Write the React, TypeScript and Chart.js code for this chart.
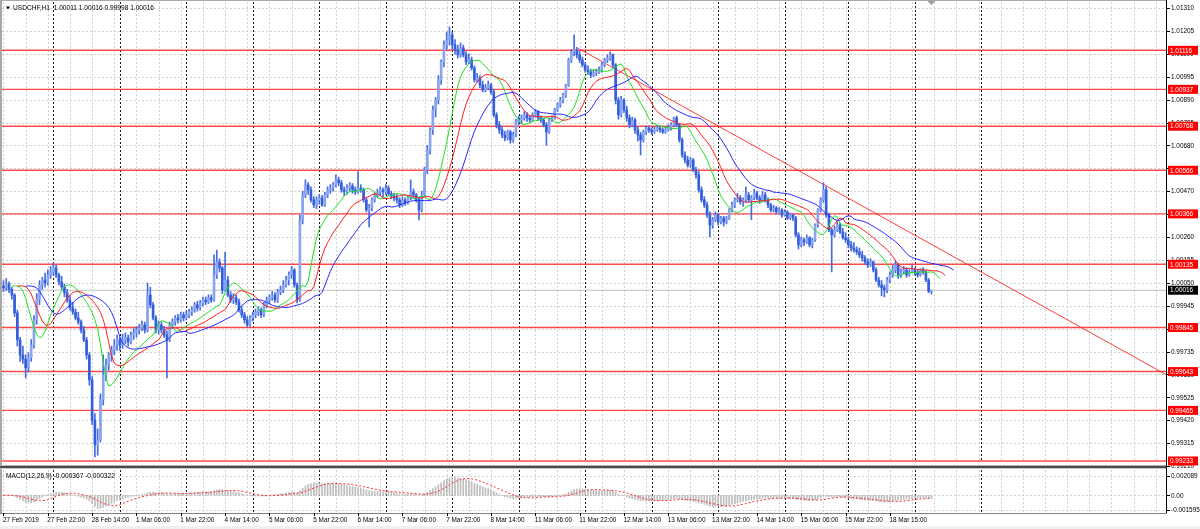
import React, { useEffect, useRef } from "react";
import { Chart, registerables } from "chart.js";
Chart.register(...registerables);

const symbolTitle = "USDCHF,H1  1.00011 1.00016 0.99998 1.00016";
const macdTitle = "MACD(12,26,9) -0.000367 -0.000322";

const opens = [
  1.00035, 1.00027, 1.00045, 1.0002, 0.99994, 0.99912, 0.99788, 0.99719, 0.997, 0.9966, 0.99706, 0.99765,
  0.9988, 0.99975, 1.0004, 1.00063, 1.0005, 1.00086, 1.001, 1.00118, 1.00086, 1.00054, 1.00031, 1.00004,
  0.99971, 0.99935, 0.99916, 0.99889, 0.99871, 0.99834, 0.99788, 0.99719, 0.99605, 0.99421, 0.99307, 0.9933,
  0.99513, 0.99628, 0.99673, 0.99719, 0.99742, 0.99765, 0.99788, 0.99765, 0.99788, 0.99797, 0.99779, 0.99811,
  0.9982, 0.99834, 0.99843, 0.99857, 0.99834, 0.99994, 0.99949, 0.99889, 0.99834, 0.99857, 0.99834, 0.99811,
  0.99788, 0.99857, 0.99871, 0.99889, 0.9988, 0.99903, 0.99889, 0.99903, 0.99916, 0.99926, 0.99949, 0.99935,
  0.99958, 0.99971, 0.99962, 0.99981, 0.99971, 1.00086, 1.00146, 1.00118, 1.00017, 1.00063, 0.99994, 0.99971,
  0.99981, 0.99962, 0.99926, 0.99903, 0.9988, 0.99857, 0.99889, 0.99903, 0.99916, 0.99926, 0.99903, 0.99949,
  0.99971, 0.99981, 0.99994, 0.99971, 1.00008, 1.00017, 1.0004, 1.00063, 1.00086, 1.00109, 1.0004, 0.99971,
  1.00338, 1.00453, 1.00499, 1.00476, 1.0043, 1.00407, 1.0043, 1.00439, 1.00407, 1.00453, 1.00476, 1.00485,
  1.00499, 1.00522, 1.00508, 1.00476, 1.00467, 1.00485, 1.00494, 1.00476, 1.00467, 1.00485, 1.00476, 1.0043,
  1.00384, 1.00393, 1.0043, 1.00453, 1.00467, 1.00476, 1.00467, 1.00485, 1.00458, 1.00448, 1.00439, 1.0043,
  1.00407, 1.0043, 1.00416, 1.00439, 1.00467, 1.00453, 1.0043, 1.00384, 1.00453, 1.00568, 1.00659, 1.00751,
  1.00843, 1.00888, 1.0098, 1.01063, 1.01141, 1.01164, 1.01187, 1.01141, 1.01118, 1.01095, 1.01127, 1.01095,
  1.01063, 1.01072, 1.01035, 1.0098, 1.00989, 1.00957, 1.00934, 1.00944, 1.00957, 1.00925, 1.0082, 1.00774,
  1.00751, 1.00728, 1.00714, 1.00742, 1.00705, 1.00728, 1.00788, 1.00797, 1.00806, 1.0082, 1.00806, 1.00797,
  1.0082, 1.00833, 1.00806, 1.00797, 1.00774, 1.00742, 1.00797, 1.00806, 1.00843, 1.00866, 1.00888, 1.00911,
  1.00957, 1.01072, 1.01109, 1.01118, 1.01095, 1.01072, 1.01049, 1.01026, 1.01017, 1.01003, 1.01012, 1.01017,
  1.01026, 1.01049, 1.01072, 1.01081, 1.01095, 1.01049, 1.00888, 1.0082, 1.00888, 1.00843, 1.00806, 1.00774,
  1.00797, 1.00751, 1.00728, 1.00705, 1.00742, 1.0076, 1.00751, 1.00742, 1.00751, 1.0076, 1.00751, 1.00742,
  1.00751, 1.0076, 1.00774, 1.00806, 1.00774, 1.00705, 1.00636, 1.00613, 1.0059, 1.00613, 1.00568, 1.00545,
  1.00476, 1.0043, 1.00407, 1.00361, 1.00315, 1.00338, 1.00361, 1.00329, 1.00347, 1.00329, 1.00347, 1.00384,
  1.00407, 1.0043, 1.00439, 1.00421, 1.0043, 1.00453, 1.0043, 1.00439, 1.00462, 1.00439, 1.0043, 1.00453,
  1.0043, 1.00407, 1.00384, 1.00393, 1.00375, 1.00384, 1.00361, 1.00375, 1.00347, 1.00361, 1.00347, 1.0027,
  1.00224, 1.00247, 1.00237, 1.00256, 1.00224, 1.00247, 1.00315, 1.00384, 1.0043, 1.00476, 1.00361, 1.00292,
  1.0027, 1.00292, 1.00315, 1.00283, 1.00256, 1.00247, 1.00224, 1.0021, 1.00201, 1.00192, 1.00178, 1.00164,
  1.00146, 1.00132, 1.00146, 1.00109, 1.00063, 1.0004, 1.00027, 1.00017, 1.00063, 1.00086, 1.00109, 1.00132,
  1.00086, 1.001, 1.00109, 1.00086, 1.001, 1.00109, 1.001, 1.00086, 1.00109, 1.001, 1.00063, 1.00011,
];

const highs = [
  1.0006, 1.0007, 1.00055, 1.0003, 1.0, 0.99925, 0.998, 0.9976, 0.9972, 0.9973, 0.9979, 0.999,
  1.0, 1.0006, 1.00075, 1.00095, 1.0011, 1.00125, 1.00141, 1.0013, 1.00095, 1.0008, 1.00045, 1.0002,
  0.9999, 0.9996, 0.9993, 0.99915, 0.9988, 0.9985, 0.998, 0.9973, 0.9962, 0.9945, 0.9938, 0.9954,
  0.9972, 0.997, 0.9973, 0.9976, 0.9979, 0.9981, 0.998, 0.99815, 0.9982, 0.9981, 0.99825, 0.9984,
  0.9985, 0.9986, 0.99875, 0.9987, 1.00049, 1.0003, 0.9996, 0.999, 0.99875, 0.9987, 0.9985, 0.9983,
  0.9987, 0.99885, 0.999, 0.99905, 0.99915, 0.99915, 0.9992, 0.9993, 0.9994, 0.9996, 0.99965, 0.9997,
  0.99985, 0.99985, 0.99995, 0.99995, 1.00178, 1.002, 1.0016, 1.00125, 1.0019, 1.0008, 1.0001, 1.0,
  0.99995, 0.99975, 0.9994, 0.99915, 0.99895, 0.999, 0.99915, 0.9993, 0.9994, 0.99935, 0.9996, 0.99985,
  0.99995, 1.0001, 1.00005, 1.0002, 1.00035, 1.0006, 1.0008, 1.001, 1.00125, 1.00115, 1.0005, 1.0036,
  1.0047, 1.00522, 1.0051, 1.0049, 1.00445, 1.00445, 1.00455, 1.0045, 1.00465, 1.0049, 1.005, 1.0051,
  1.00545, 1.00535, 1.0052, 1.0049, 1.005, 1.0051, 1.00505, 1.0049, 1.0056, 1.005, 1.00485, 1.0044,
  1.0041, 1.0044, 1.00465, 1.0048, 1.0049, 1.00485, 1.005, 1.00495, 1.0047, 1.0046, 1.00455, 1.0044,
  1.00445, 1.0044, 1.0045, 1.00522, 1.0048, 1.0046, 1.0044, 1.0047, 1.0058, 1.0068, 1.0076, 1.0086,
  1.009, 1.01, 1.01072, 1.0116, 1.012, 1.01223, 1.012, 1.01165, 1.0114, 1.0115, 1.0114, 1.0111,
  1.011, 1.01085, 1.01045, 1.0101, 1.01, 1.00975, 1.0096, 1.00975, 1.00965, 1.00935, 1.0083, 1.0079,
  1.00765, 1.00745, 1.0075, 1.0075, 1.0074, 1.008, 1.00815, 1.0082, 1.00835, 1.0083, 1.00815, 1.0083,
  1.00845, 1.0084, 1.00815, 1.00805, 1.00785, 1.00805, 1.00815, 1.0085, 1.00875, 1.009, 1.0092, 1.0096,
  1.0108, 1.0112, 1.01187, 1.0113, 1.0111, 1.01085, 1.0106, 1.01045, 1.0103, 1.01025, 1.0103, 1.0104,
  1.0106, 1.0108, 1.01095, 1.01109, 1.011, 1.01055, 1.009, 1.00905, 1.00895, 1.0086, 1.0082, 1.0081,
  1.00805, 1.00765, 1.0074, 1.0075, 1.0077, 1.0077, 1.0076, 1.00765, 1.0077, 1.0077, 1.0076, 1.00765,
  1.00775, 1.00785, 1.0081, 1.00815, 1.0078, 1.00715, 1.0065, 1.0063, 1.00625, 1.0062, 1.0058, 1.0056,
  1.0049, 1.00445, 1.0042, 1.00375, 1.0035, 1.00375, 1.0037, 1.00355, 1.00355, 1.00355, 1.0039, 1.0042,
  1.0044, 1.0046, 1.0045, 1.0044, 1.0049, 1.00465, 1.0045, 1.0048, 1.0047, 1.0045, 1.0047, 1.00465,
  1.0044, 1.00415, 1.00405, 1.004, 1.00395, 1.0039, 1.00385, 1.0038, 1.0037, 1.00365, 1.00355, 1.0028,
  1.0026, 1.00255, 1.0027, 1.00262, 1.00255, 1.0032, 1.0039, 1.0044, 1.00508, 1.0049, 1.0037, 1.003,
  1.0031, 1.0033, 1.00325, 1.003, 1.0028, 1.0026, 1.0024, 1.00235, 1.00215, 1.0021, 1.00195, 1.00175,
  1.0016, 1.0016, 1.0015, 1.0012, 1.00075, 1.0006, 1.0004, 1.00075, 1.001, 1.0013, 1.0015, 1.0014,
  1.00115, 1.00125, 1.0012, 1.0011, 1.0013, 1.00118, 1.0011, 1.00115, 1.0012, 1.00105, 1.0007, 1.00016,
];

const lows = [
  1.0001, 1.00015, 1.00005, 0.99975, 0.99895, 0.9976, 0.9969, 0.9968, 0.99614, 0.9964, 0.9969, 0.9975,
  0.9986, 0.9995, 1.0002, 1.0003, 1.0004, 1.0007, 1.00085, 1.00075, 1.0004, 1.0002, 0.99985, 0.9996,
  0.99925, 0.99905, 0.9988, 0.9986, 0.9982, 0.9978, 0.997, 0.9958, 0.994, 0.99252, 0.9926, 0.9932,
  0.9949, 0.996, 0.9965, 0.9969, 0.9972, 0.9974, 0.9974, 0.9975, 0.9977, 0.9976, 0.9977, 0.9979,
  0.998, 0.99815, 0.9983, 0.9982, 0.99825, 0.99935, 0.9988, 0.9982, 0.99815, 0.9982, 0.998, 0.99614,
  0.9978, 0.9984, 0.99855, 0.99865, 0.9987, 0.99875, 0.9988, 0.9989, 0.999, 0.99915, 0.9992, 0.99925,
  0.99945, 0.9995, 0.99955, 0.9996, 0.99965, 1.0007, 1.001, 1.0, 1.0001, 0.99985, 0.9996, 0.99955,
  0.9995, 0.99915, 0.9989, 0.99865, 0.99848, 0.9985, 0.99875, 0.9989, 0.999, 0.9989, 0.99895, 0.99935,
  0.99955, 0.9997, 0.9996, 0.9996, 0.99995, 1.00005, 1.0003, 1.0004, 1.0007, 1.0003, 0.99958, 0.99965,
  1.0032, 1.0044, 1.00455, 1.0042, 1.00395, 1.0039, 1.0041, 1.004, 1.004, 1.0044, 1.0046, 1.0047,
  1.0049, 1.00495, 1.00465, 1.0045, 1.00455, 1.0047, 1.0046, 1.00455, 1.0046, 1.00465, 1.0042, 1.00375,
  1.00306, 1.0038, 1.0042, 1.0044, 1.0045, 1.00445, 1.00455, 1.0045, 1.00435, 1.00425, 1.00415, 1.00395,
  1.004, 1.00405, 1.0041, 1.0043, 1.0044, 1.0042, 1.00338, 1.00375, 1.00445, 1.0055, 1.0064, 1.0073,
  1.0081, 1.0087, 1.0096, 1.0104, 1.0112, 1.0114, 1.0112, 1.011, 1.0108, 1.01085, 1.01085, 1.0105,
  1.01055, 1.01025, 1.0097, 1.0097, 1.00945, 1.00925, 1.00925, 1.00935, 1.00915, 1.0081, 1.0076, 1.00735,
  1.00715, 1.007, 1.00705, 1.0069, 1.00695, 1.0072, 1.00775, 1.0078, 1.00795, 1.0079, 1.00785, 1.0079,
  1.0081, 1.00795, 1.00785, 1.00765, 1.0068, 1.00735, 1.0079, 1.008, 1.00835, 1.00855, 1.00875, 1.009,
  1.0095, 1.0106, 1.0109, 1.0108, 1.0106, 1.0104, 1.01015, 1.01005, 1.0099, 1.00995, 1.01, 1.0101,
  1.01015, 1.0104, 1.0106, 1.0107, 1.01035, 1.0087, 1.008, 1.0081, 1.0083, 1.0079, 1.0076, 1.00765,
  1.00735, 1.007, 1.00636, 1.00695, 1.0073, 1.0074, 1.0073, 1.00735, 1.00745, 1.0074, 1.00735, 1.00735,
  1.00745, 1.0075, 1.00765, 1.00765, 1.00695, 1.00625, 1.006, 1.0058, 1.0058, 1.0056, 1.0053, 1.00465,
  1.0042, 1.00395, 1.0035, 1.0026, 1.003, 1.0033, 1.00315, 1.0032, 1.0031, 1.0032, 1.0034, 1.00375,
  1.00395, 1.0042, 1.0041, 1.004, 1.0042, 1.0042, 1.0034, 1.0043, 1.0043, 1.00415, 1.0042, 1.0042,
  1.00395, 1.00375, 1.00375, 1.00365, 1.0037, 1.0035, 1.00355, 1.0034, 1.0034, 1.00335, 1.0026, 1.00205,
  1.00215, 1.0022, 1.0023, 1.00215, 1.0021, 1.0024, 1.00305, 1.00375, 1.0042, 1.0035, 1.00285, 1.001,
  1.0026, 1.00285, 1.00275, 1.0025, 1.00235, 1.0021, 1.00195, 1.0019, 1.0018, 1.00165, 1.0015, 1.00135,
  1.0012, 1.00125, 1.001, 1.00055, 1.0003, 0.9999, 0.99985, 1.00005, 1.0005, 1.00075, 1.00095, 1.0007,
  1.00075, 1.0009, 1.00075, 1.0008, 1.00095, 1.00085, 1.00075, 1.0008, 1.0009, 1.00055, 1.00005, 0.99998,
];

const closes = [
  1.00027, 1.00045, 1.0002, 0.99994, 0.99912, 0.99788, 0.99719, 0.997, 0.9966, 0.99706, 0.99765, 0.9988,
  0.99975, 1.0004, 1.00063, 1.0005, 1.00086, 1.001, 1.00118, 1.00086, 1.00054, 1.00031, 1.00004, 0.99971,
  0.99935, 0.99916, 0.99889, 0.99871, 0.99834, 0.99788, 0.99719, 0.99605, 0.99421, 0.99307, 0.9933, 0.99513,
  0.99628, 0.99673, 0.99719, 0.99742, 0.99765, 0.99788, 0.99765, 0.99788, 0.99797, 0.99779, 0.99811, 0.9982,
  0.99834, 0.99843, 0.99857, 0.99834, 0.99994, 0.99949, 0.99889, 0.99834, 0.99857, 0.99834, 0.99811, 0.99788,
  0.99857, 0.99871, 0.99889, 0.9988, 0.99903, 0.99889, 0.99903, 0.99916, 0.99926, 0.99949, 0.99935, 0.99958,
  0.99971, 0.99962, 0.99981, 0.99971, 1.00086, 1.00146, 1.00118, 1.00017, 1.00063, 0.99994, 0.99971, 0.99981,
  0.99962, 0.99926, 0.99903, 0.9988, 0.99857, 0.99889, 0.99903, 0.99916, 0.99926, 0.99903, 0.99949, 0.99971,
  0.99981, 0.99994, 0.99971, 1.00008, 1.00017, 1.0004, 1.00063, 1.00086, 1.00109, 1.0004, 0.99971, 1.00338,
  1.00453, 1.00499, 1.00476, 1.0043, 1.00407, 1.0043, 1.00439, 1.00407, 1.00453, 1.00476, 1.00485, 1.00499,
  1.00522, 1.00508, 1.00476, 1.00467, 1.00485, 1.00494, 1.00476, 1.00467, 1.00485, 1.00476, 1.0043, 1.00384,
  1.00393, 1.0043, 1.00453, 1.00467, 1.00476, 1.00467, 1.00485, 1.00458, 1.00448, 1.00439, 1.0043, 1.00407,
  1.0043, 1.00416, 1.00439, 1.00467, 1.00453, 1.0043, 1.00384, 1.00453, 1.00568, 1.00659, 1.00751, 1.00843,
  1.00888, 1.0098, 1.01063, 1.01141, 1.01164, 1.01187, 1.01141, 1.01118, 1.01095, 1.01127, 1.01095, 1.01063,
  1.01072, 1.01035, 1.0098, 1.00989, 1.00957, 1.00934, 1.00944, 1.00957, 1.00925, 1.0082, 1.00774, 1.00751,
  1.00728, 1.00714, 1.00742, 1.00705, 1.00728, 1.00788, 1.00797, 1.00806, 1.0082, 1.00806, 1.00797, 1.0082,
  1.00833, 1.00806, 1.00797, 1.00774, 1.00742, 1.00797, 1.00806, 1.00843, 1.00866, 1.00888, 1.00911, 1.00957,
  1.01072, 1.01109, 1.01118, 1.01095, 1.01072, 1.01049, 1.01026, 1.01017, 1.01003, 1.01012, 1.01017, 1.01026,
  1.01049, 1.01072, 1.01081, 1.01095, 1.01049, 1.00888, 1.0082, 1.00888, 1.00843, 1.00806, 1.00774, 1.00797,
  1.00751, 1.00728, 1.00705, 1.00742, 1.0076, 1.00751, 1.00742, 1.00751, 1.0076, 1.00751, 1.00742, 1.00751,
  1.0076, 1.00774, 1.00806, 1.00774, 1.00705, 1.00636, 1.00613, 1.0059, 1.00613, 1.00568, 1.00545, 1.00476,
  1.0043, 1.00407, 1.00361, 1.00315, 1.00338, 1.00361, 1.00329, 1.00347, 1.00329, 1.00347, 1.00384, 1.00407,
  1.0043, 1.00439, 1.00421, 1.0043, 1.00453, 1.0043, 1.00439, 1.00462, 1.00439, 1.0043, 1.00453, 1.0043,
  1.00407, 1.00384, 1.00393, 1.00375, 1.00384, 1.00361, 1.00375, 1.00347, 1.00361, 1.00347, 1.0027, 1.00224,
  1.00247, 1.00237, 1.00256, 1.00224, 1.00247, 1.00315, 1.00384, 1.0043, 1.00476, 1.00361, 1.00292, 1.0027,
  1.00292, 1.00315, 1.00283, 1.00256, 1.00247, 1.00224, 1.0021, 1.00201, 1.00192, 1.00178, 1.00164, 1.00146,
  1.00132, 1.00146, 1.00109, 1.00063, 1.0004, 1.00027, 1.00017, 1.00063, 1.00086, 1.00109, 1.00132, 1.00086,
  1.001, 1.00109, 1.00086, 1.001, 1.00109, 1.001, 1.00086, 1.00109, 1.001, 1.00063, 1.00011, 1.00016,
];

const xLabels = [
  "27 Feb 2019", "27 Feb 22:00", "28 Feb 14:00", "1 Mar 06:00", "1 Mar 22:00", "4 Mar 14:00",
  "5 Mar 06:00", "5 Mar 22:00", "6 Mar 14:00", "7 Mar 06:00", "7 Mar 22:00", "8 Mar 14:00",
  "11 Mar 06:00", "11 Mar 22:00", "12 Mar 14:00", "13 Mar 06:00", "13 Mar 22:00", "14 Mar 14:00",
  "15 Mar 06:00", "15 Mar 22:00", "18 Mar 15:00",
];
const barsPerLabel = 16;
const daySeparators = [18, 42, 66, 90, 114, 138, 162, 186, 210, 234, 258, 282, 305, 329, 353];
const priceTicks = [
  1.0131, 1.01205, 1.011, 1.00995, 1.0089, 1.00785, 1.0068, 1.00575, 1.0047, 1.00365, 1.0026,
  1.00155, 1.0005, 0.99945, 0.9984, 0.99735, 0.9963, 0.99525, 0.9942, 0.99315, 0.9921,
];
const levels = [1.01116, 1.00937, 1.00768, 1.00566, 1.00366, 1.00135, 0.99845, 0.99643, 0.99465, 0.99233];
const bidPrice = 1.00016;
const trendBars = [207.5, 421];
const trendPrices = [1.01125, 0.9962];
const macdTicks = [0.002089, 0, -0.001595];
const macdTickLabels = ["0.002089", "0.00", "-0.001595"];

const X_MIN = -0.54;
const X_MAX = 419.68;
const Y_MIN = 0.992284;
const Y_MAX = 1.013375;
const M_MIN = -0.001916;
const M_MAX = 0.002738;

const FONT = "6.4px 'Liberation Sans', Arial, sans-serif";
const TITLE_FONT = "6.6px 'Liberation Sans', Arial, sans-serif";

function smma(src: number[], n: number) {
  const out: number[] = [];
  let v = src[0];
  for (let i = 0; i < src.length; i++) {
    v = i === 0 ? src[0] : (v * (n - 1) + src[i]) / n;
    out.push(v);
  }
  return out;
}
function ema(src: number[], n: number) {
  const k = 2 / (n + 1);
  let v = src[0];
  return src.map((p, i) => (v = i === 0 ? p : v + k * (p - v)));
}

function drawVGrid(chart: any) {
  const { ctx, chartArea: a, scales } = chart;
  const x = scales.x;
  ctx.save();
  ctx.lineWidth = 1;
  ctx.setLineDash([2, 2]);
  ctx.strokeStyle = "#d0d0d0";
  for (let b = 0; b <= X_MAX; b += 8) {
    const px = Math.round(x.getPixelForValue(b)) + 0.5;
    ctx.beginPath();
    ctx.moveTo(px, a.top);
    ctx.lineTo(px, a.bottom);
    ctx.stroke();
  }
  ctx.restore();
}
function drawSeparators(chart: any) {
  const { ctx, chartArea: a, scales } = chart;
  const x = scales.x;
  ctx.save();
  ctx.lineWidth = 1;
  ctx.setLineDash([2, 2]);
  ctx.strokeStyle = "#1a1a1a";
  for (const b of daySeparators) {
    const px = Math.round(x.getPixelForValue(b)) + 0.5;
    ctx.beginPath();
    ctx.moveTo(px, a.top);
    ctx.lineTo(px, a.bottom);
    ctx.stroke();
  }
  ctx.restore();
}

const mainDecor = {
  id: "mainDecor",
  beforeDatasetsDraw(chart: any) {
    const { ctx, chartArea: a, scales } = chart;
    const y = scales.y;
    drawVGrid(chart);
    ctx.save();
    ctx.lineWidth = 1;
    ctx.setLineDash([2, 2]);
    ctx.strokeStyle = "#d0d0d0";
    for (const p of priceTicks) {
      const py = Math.round(y.getPixelForValue(p)) + 0.5;
      if (py < a.top || py > a.bottom) continue;
      ctx.beginPath();
      ctx.moveTo(a.left, py);
      ctx.lineTo(a.right, py);
      ctx.stroke();
    }
    ctx.restore();
    drawSeparators(chart);
  },
  afterDraw(chart: any) {
    const { ctx, chartArea: a, scales, height } = chart;
    const y = scales.y;
    const x = scales.x;
    ctx.save();
    ctx.fillStyle = "#a8a8a8";
    ctx.fillRect(0, 0, 2, height);
    ctx.fillRect(0, 0, a.right, 1);
    ctx.fillStyle = "#b4b4b4";
    ctx.fillRect(0, 465, a.right, 1);
    ctx.fillStyle = "#4a4a4a";
    ctx.fillRect(0, 466, a.right, 2);
    ctx.fillStyle = "#c8c8c8";
    ctx.fillRect(0, 468, a.right, 1);
    ctx.fillStyle = "#000";
    ctx.fillRect(a.right, 0, 1, height);
    ctx.font = FONT;
    ctx.textBaseline = "middle";
    ctx.textAlign = "left";
    for (const p of priceTicks) {
      const py = y.getPixelForValue(p);
      if (py > a.bottom + 6) continue;
      ctx.fillStyle = "#000";
      ctx.fillRect(a.right + 1, Math.round(py), 3, 1);
      ctx.fillText(p.toFixed(5), a.right + 5, py + 0.5);
    }
    for (const lv of levels) {
      const py = y.getPixelForValue(lv);
      ctx.fillStyle = "#ff0000";
      ctx.fillRect(a.right + 2, py - 4.5, 30, 9);
      ctx.fillStyle = "#ffffff";
      ctx.fillText(lv.toFixed(5), a.right + 4, py + 0.5);
    }
    const by = y.getPixelForValue(bidPrice);
    ctx.fillStyle = "#000";
    ctx.fillRect(a.right + 2, by - 4.5, 30, 9);
    ctx.fillStyle = "#fff";
    ctx.fillText(bidPrice.toFixed(5), a.right + 4, by + 0.5);
    ctx.fillStyle = "#000";
    ctx.beginPath();
    ctx.moveTo(6, 6.5);
    ctx.lineTo(10, 6.5);
    ctx.lineTo(8, 9.5);
    ctx.closePath();
    ctx.fill();
    ctx.font = TITLE_FONT;
    ctx.fillText(symbolTitle, 13, 8.5);
    const sx = x.getPixelForValue(closes.length - 1);
    ctx.fillStyle = "#a0a0a0";
    ctx.beginPath();
    ctx.moveTo(sx - 4, 1);
    ctx.lineTo(sx + 4, 1);
    ctx.lineTo(sx, 5);
    ctx.closePath();
    ctx.fill();
    ctx.restore();
  },
};

const macdDecor = {
  id: "macdDecor",
  beforeDatasetsDraw(chart: any) {
    const { ctx, chartArea: a, scales } = chart;
    const y = scales.y;
    drawVGrid(chart);
    ctx.save();
    ctx.lineWidth = 1;
    ctx.setLineDash([2, 2]);
    ctx.strokeStyle = "#d0d0d0";
    for (const v of macdTicks) {
      const py = Math.round(y.getPixelForValue(v)) + 0.5;
      ctx.beginPath();
      ctx.moveTo(a.left, py);
      ctx.lineTo(a.right, py);
      ctx.stroke();
    }
    ctx.restore();
    drawSeparators(chart);
  },
  afterDraw(chart: any) {
    const { ctx, chartArea: a, scales, width, height } = chart;
    const y = scales.y;
    const x = scales.x;
    ctx.save();
    ctx.fillStyle = "#a8a8a8";
    ctx.fillRect(0, 0, 2, a.bottom);
    ctx.fillStyle = "#000";
    ctx.fillRect(a.right, 0, 1, a.bottom + 1);
    ctx.fillStyle = "#808080";
    ctx.fillRect(0, a.bottom, a.right + 1, 1);
    ctx.font = FONT;
    ctx.textBaseline = "middle";
    ctx.textAlign = "left";
    macdTicks.forEach((v, i) => {
      const py = y.getPixelForValue(v);
      ctx.fillStyle = "#000";
      ctx.fillRect(a.right + 1, Math.round(py), 3, 1);
      ctx.fillText(macdTickLabels[i], a.right + 5, py + 0.5);
    });
    ctx.font = TITLE_FONT;
    ctx.fillText(macdTitle, 6, 7.5);
    ctx.font = FONT;
    xLabels.forEach((t, i) => {
      const px = x.getPixelForValue(i * barsPerLabel);
      ctx.fillStyle = "#000";
      ctx.fillRect(Math.round(px), a.bottom, 1, 3);
      ctx.fillText(t, px - 0.5, 51.5);
    });
    ctx.fillStyle = "#f0f0f0";
    ctx.fillRect(0, 57, width, height - 57);
    ctx.restore();
  },
};

export default function App() {
  const mainRef = useRef<HTMLCanvasElement>(null);
  const macdRef = useRef<HTMLCanvasElement>(null);

  useEffect(() => {
    const median = highs.map((h, i) => (h + lows[i]) / 2);
    const jaw = smma(median, 13);
    const teeth = smma(median, 8);
    const lips = smma(median, 5);
    const e12 = ema(closes, 12);
    const e26 = ema(closes, 26);
    const macd = e12.map((v, i) => v - e26[i]);
    const signal = macd.map((_, i) => {
      const s = Math.max(0, i - 8);
      let sum = 0;
      for (let j = s; j <= i; j++) sum += macd[j];
      return sum / (i - s + 1);
    });

    const bull = "#8aa4ee";
    const bear = "#345fdc";
    const lineDs = (data: any[], color: string, width: number, order: number, dash: number[] = []) => ({
      type: "line" as const,
      data,
      borderColor: color,
      borderWidth: width,
      borderDash: dash,
      pointRadius: 0,
      fill: false,
      tension: 0,
      order,
    });

    const datasets: any[] = [];
    levels.forEach((lv) => {
      datasets.push(
        lineDs([{ x: X_MIN, y: lv }, { x: X_MAX, y: lv }], "rgba(255,40,40,0.85)", 1.4, 6)
      );
    });
    datasets.push(lineDs([{ x: X_MIN, y: bidPrice }, { x: X_MAX, y: bidPrice }], "#c0c0c0", 1, 7));
    datasets.push(
      lineDs(
        trendBars.map((b, i) => ({ x: b, y: trendPrices[i] })),
        "rgba(255,40,40,0.9)",
        1,
        5
      )
    );
    datasets.push({
      type: "bar",
      data: highs.map((h, i) => ({ x: i, y: [lows[i], h] })),
      backgroundColor: "#456ce2",
      barThickness: 1,
      grouped: false,
      borderWidth: 0,
      order: 3,
    });
    datasets.push({
      type: "bar",
      data: opens.map((o, i) => ({ x: i, y: [o, closes[i]] })),
      backgroundColor: opens.map((o, i) => (closes[i] >= o ? bull : bear)),
      barThickness: 2,
      minBarLength: 1,
      grouped: false,
      borderWidth: 0,
      order: 2,
    });
    datasets.push(lineDs(jaw.map((v, i) => ({ x: i + 8, y: v })), "rgb(40,40,255)", 1, 1));
    datasets.push(lineDs(teeth.map((v, i) => ({ x: i + 5, y: v })), "rgb(255,30,30)", 1, 1));
    datasets.push(lineDs(lips.map((v, i) => ({ x: i + 3, y: v })), "rgb(30,225,30)", 1, 1));

    const main = new Chart(mainRef.current as HTMLCanvasElement, {
      type: "bar",
      data: { datasets },
      options: {
        responsive: false,
        animation: false,
        events: [],
        layout: { padding: { left: 2, right: 34, top: 2, bottom: 7 } },
        scales: {
          x: { type: "linear", min: X_MIN, max: X_MAX, display: false, offset: false },
          y: { type: "linear", min: Y_MIN, max: Y_MAX, display: false },
        },
        plugins: { legend: { display: false }, tooltip: { enabled: false } },
      } as any,
      plugins: [mainDecor],
    });

    const sub = new Chart(macdRef.current as HTMLCanvasElement, {
      type: "bar",
      data: {
        datasets: [
          {
            type: "bar",
            data: macd.map((v, i) => ({ x: i, y: v })),
            backgroundColor: "#bdbdbd",
            barThickness: 1,
            grouped: false,
            borderWidth: 0,
            order: 2,
          } as any,
          lineDs(signal.map((v, i) => ({ x: i, y: v })), "rgb(255,40,40)", 1, 1, [2, 2]) as any,
        ],
      },
      options: {
        responsive: false,
        animation: false,
        events: [],
        layout: { padding: { left: 2, right: 34, top: 1, bottom: 16 } },
        scales: {
          x: { type: "linear", min: X_MIN, max: X_MAX, display: false, offset: false },
          y: { type: "linear", min: M_MIN, max: M_MAX, display: false },
        },
        plugins: { legend: { display: false }, tooltip: { enabled: false } },
      } as any,
      plugins: [macdDecor],
    });

    return () => {
      main.destroy();
      sub.destroy();
    };
  }, []);

  return (
    <div style={{ position: "absolute", left: 0, top: 0, width: 1200, height: 529, background: "#fff" }}>
      <canvas ref={mainRef} width={1200} height={469} style={{ position: "absolute", left: 0, top: 0 }} />
      <canvas ref={macdRef} width={1200} height={60} style={{ position: "absolute", left: 0, top: 469 }} />
    </div>
  );
}
